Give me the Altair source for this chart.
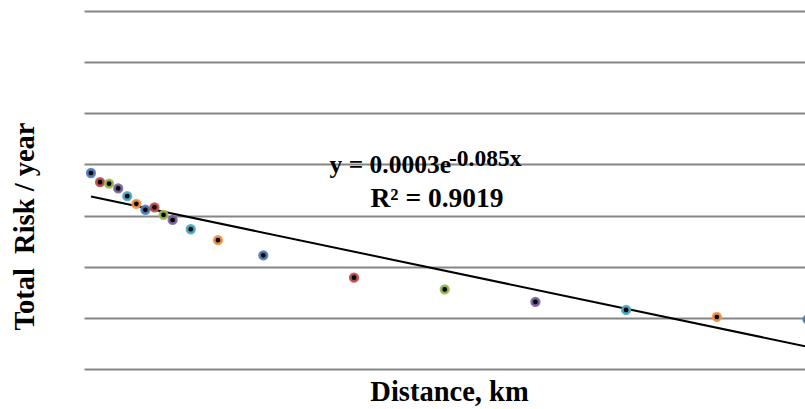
import altair as alt
import numpy as np
import pandas as pd

# ---- data ----
distance_km = [1, 2, 3, 4, 5, 6, 7, 8, 9, 10, 12, 15, 20, 30, 40, 50, 60, 70, 80]
total_risk = [6.8e-4, 4.5e-4, 4.2e-4, 3.4e-4, 2.4e-4, 1.7e-4, 1.3e-4, 1.45e-4, 1.03e-4,
              8.2e-5, 5.4e-5, 3.3e-5, 1.67e-5, 6.1e-6, 3.6e-6, 2.05e-6, 1.43e-6,
              1.04e-6, 9.3e-7]
palette = ["#4F81BD", "#C0504D", "#9BBB59", "#8064A2", "#4BACC6", "#F79646"]
marker_colours = [palette[i % len(palette)] for i in range(len(distance_km))]
y_ticks = [1e-7, 1e-6, 1e-5, 1e-4, 1e-3, 1e-2, 1e-1, 1.0]
equation_main = "y = 0.0003e"
equation_exp = "-0.085x"
r2_label = "R² = 0.9019"

df = pd.DataFrame({"distance": distance_km, "risk": total_risk, "colour": marker_colours})

# exponential trendline (least squares on ln(y), as the spreadsheet does)
b, ln_a = np.polyfit(np.array(distance_km, float), np.log(np.array(total_risk)), 1)
fit_x = [min(distance_km), max(distance_km)]
fit_df = pd.DataFrame({"distance": fit_x, "risk": [float(np.exp(ln_a + b * x)) for x in fit_x]})

FONT = "Liberation Serif"
W, H = 721, 358

x_enc = alt.X(
    "distance:Q",
    scale=alt.Scale(domain=[0.23, 79.72], nice=False, zero=False),
    axis=alt.Axis(
        title="Distance, km", labels=False, ticks=False, domain=False, grid=False,
        titleFont=FONT, titleFontSize=28.5, titleFontWeight="bold", titleColor="black",
        titlePadding=8, titleX=365, titleAlign="center",
    ),
)
y_enc = alt.Y(
    "risk:Q",
    scale=alt.Scale(type="log", domain=[1e-7, 1], nice=False),
    axis=alt.Axis(
        title="Total\u00a0 Risk / year", values=y_ticks, labels=False, ticks=False,
        domain=False, grid=True, gridColor="#858585", gridWidth=2,
        titleFont=FONT, titleFontSize=28.5, titleFontWeight="bold", titleColor="black",
        titleX=-60, titleY=215, titleAngle=270, titleAlign="center", titleBaseline="middle",
    ),
)

points = alt.Chart(df).mark_circle(size=56, fill="black", fillOpacity=1, strokeWidth=2.8,
                                   strokeOpacity=0.9).encode(
    x=x_enc, y=y_enc, stroke=alt.Stroke("colour:N", scale=None)
)

trend = alt.Chart(fit_df).mark_line(color="black", strokeWidth=2).encode(
    x="distance:Q", y="risk:Q"
)

one = pd.DataFrame({"k": [0]})


def label(text, px, py, size, align):
    return alt.Chart(one).mark_text(
        text=text, font=FONT, fontSize=size, fontWeight="bold", color="black",
        align=align, baseline="alphabetic",
    ).encode(x=alt.value(px), y=alt.value(py))


eq1 = label(equation_main, 367, 162, 25.5, "right")
eq2 = label(equation_exp, 365, 155, 23.5, "left")
eq3 = label(r2_label, 353, 195.5, 27.5, "center")

chart = alt.layer(trend, points, eq1, eq2, eq3).properties(
    width=W, height=H,
    autosize=alt.AutoSizeParams(type="none"),
    padding={"left": 84, "top": 11, "right": 0, "bottom": 40},
    background="white",
).configure_view(stroke=None)

chart.save("out.html", embed_options={"renderer": "svg", "actions": False})
